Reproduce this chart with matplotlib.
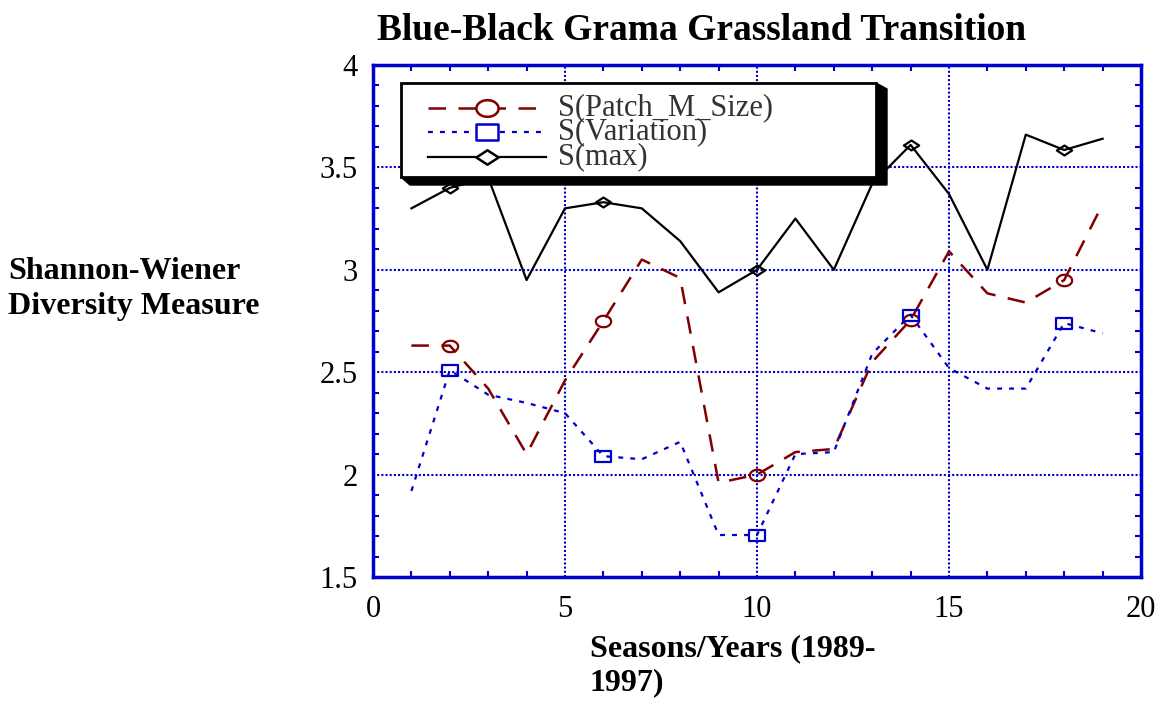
import numpy as np
import matplotlib
matplotlib.use("Agg")
import matplotlib.pyplot as plt
from matplotlib.path import Path
from matplotlib.patches import Rectangle, Polygon
from matplotlib.lines import Line2D
from matplotlib.ticker import MultipleLocator

# ---------------------------------------------------
# Data
# ---------------------------------------------------

seasons = [1, 2, 3, 4, 5, 6, 7, 8, 9, 10, 11, 12, 13, 14, 15, 16, 17, 18, 19]

s_patch = [2.63, 2.63, 2.42, 2.10, 2.46, 2.75, 3.05, 2.96, 1.96, 2.00,
           2.11, 2.125, 2.55, 2.755, 3.09, 2.885, 2.84, 2.95, 3.32]

s_variation = [1.92, 2.51, 2.39, 2.35, 2.30, 2.09, 2.075, 2.16, 1.705, 1.705,
               2.10, 2.11, 2.59, 2.78, 2.52, 2.42, 2.42, 2.74, 2.69]

s_max = [3.30, 3.40, 3.45, 2.95, 3.30, 3.33, 3.30, 3.14, 2.89, 3.00,
         3.25, 3.00, 3.42, 3.61, 3.37, 3.00, 3.66, 3.585, 3.64]

series_labels = ["S(Patch_M_Size)", "S(Variation)", "S(max)"]

title = "Blue-Black Grama Grassland Transition"
xlabel = "Seasons/Years (1989-\n1997)"
ylabel = "Shannon-Wiener\nDiversity Measure"

# ---------------------------------------------------
# Style
# ---------------------------------------------------

plt.rcParams["font.family"] = ["Liberation Serif", "DejaVu Serif"]

BLUE = "#0000cc"
RED = "#800000"

# flattened markers
t = np.linspace(0, 2 * np.pi, 41)
ellipse = Path(np.column_stack([np.cos(t), 0.75 * np.sin(t)]), closed=True)
flat_square = Path([(-1, -0.72), (1, -0.72), (1, 0.72), (-1, 0.72), (-1, -0.72)], closed=True)
flat_diamond = Path([(-1, 0), (0, 0.65), (1, 0), (0, -0.65), (-1, 0)], closed=True)

styles = [
    dict(color=RED, lw=1.8, dashes=(7.0, 5.0), marker=ellipse),
    dict(color=BLUE, lw=1.6, dashes=(2.2, 3.2), marker=flat_square),
    dict(color="black", lw=1.6, linestyle="-", marker=flat_diamond),
]

fig = plt.figure(figsize=(11.67, 7.01), dpi=100)
ax = fig.add_axes([373 / 1167, 1 - 577 / 701, 768 / 1167, 512 / 701])

# ---------------------------------------------------
# Lines
# ---------------------------------------------------

for values, st in zip([s_patch, s_variation, s_max], styles):
    ax.plot(seasons, values, markevery=slice(1, None, 4), markersize=11,
            markerfacecolor="none", markeredgewidth=1.6,
            markeredgecolor=st["color"], zorder=3, **st)

ax.set_xlim(0, 20)
ax.set_ylim(1.5, 4)

ax.xaxis.set_major_locator(MultipleLocator(5))
ax.xaxis.set_minor_locator(MultipleLocator(1))
ax.yaxis.set_major_locator(MultipleLocator(0.5))
ax.yaxis.set_minor_locator(MultipleLocator(0.1))

ax.tick_params(which="both", direction="in", top=True, right=True,
               color=BLUE, width=1.5, labelsize=22, labelcolor="black")
ax.tick_params(which="major", length=0)
ax.tick_params(which="minor", length=4)
ax.tick_params(axis="x", which="major", pad=13)
ax.tick_params(axis="y", which="major", pad=11)
ax.set_xticks([0, 5, 10, 15, 20])
ax.set_xticklabels(["0", "5", "10", "15", "20"])
ax.set_yticks([1.5, 2, 2.5, 3, 3.5, 4])
ax.set_yticklabels(["1.5", "2", "2.5", "3", "3.5", "4"])

ax.grid(True, which="major", color=BLUE, linestyle=(0, (1, 1)), linewidth=1.5)
ax.set_axisbelow(True)

for spine in ax.spines.values():
    spine.set_color(BLUE)
    spine.set_linewidth(2.5)

# ---------------------------------------------------
# Legend box with shadow
# ---------------------------------------------------

def ax_frac(px, py):
    return ((px - 373) / 768, 1 - (py - 65) / 512)

x0, y0 = ax_frac(401, 177)
x1, y1 = ax_frac(876, 83)

shadow = Polygon([ax_frac(401, 177), ax_frac(876, 177), ax_frac(876, 83),
                  ax_frac(887, 89), ax_frac(887, 185), ax_frac(410, 185)],
                 closed=True, transform=ax.transAxes, facecolor="black",
                 edgecolor="black", lw=1, zorder=5, clip_on=False)
ax.add_patch(shadow)
box = Rectangle((x0, y0), x1 - x0, y1 - y0, transform=ax.transAxes,
                facecolor="white", edgecolor="black", lw=2, zorder=5)
ax.add_patch(box)

row_y = [108, 132, 157]
for label, st, py in zip(series_labels, styles, row_y):
    lx0, ly = ax_frac(428, py)
    lx1, _ = ax_frac(546, py)
    mx, _ = ax_frac(487, py)
    line_kw = {k: v for k, v in st.items() if k != "marker"}
    ax.add_line(Line2D([lx0, lx1], [ly, ly], transform=ax.transAxes,
                       zorder=6, **line_kw))
    ax.add_line(Line2D([mx], [ly], transform=ax.transAxes, marker=st["marker"],
                       markersize=16, markerfacecolor="white",
                       markeredgecolor=st["color"], markeredgewidth=1.8,
                       linestyle="none", zorder=7))
    tx, _ = ax_frac(558, py)
    ax.text(tx, ly, label, transform=ax.transAxes, fontsize=22,
            color="#333333", va="center", ha="left", zorder=7)

# ---------------------------------------------------
# Titles
# ---------------------------------------------------

fig.text(702 / 1167, 1 - 40 / 701, title, fontsize=27, fontweight="bold",
         ha="center", va="baseline")
fig.text(8 / 1167, 1 - 289 / 701, ylabel, fontsize=23, fontweight="bold",
         ha="left", va="center", linespacing=1.3)
fig.text(590 / 1167, 1 - 634 / 701, xlabel, fontsize=23, fontweight="bold",
         ha="left", va="top", linespacing=1.25)

fig.savefig("out.png", dpi=100)
